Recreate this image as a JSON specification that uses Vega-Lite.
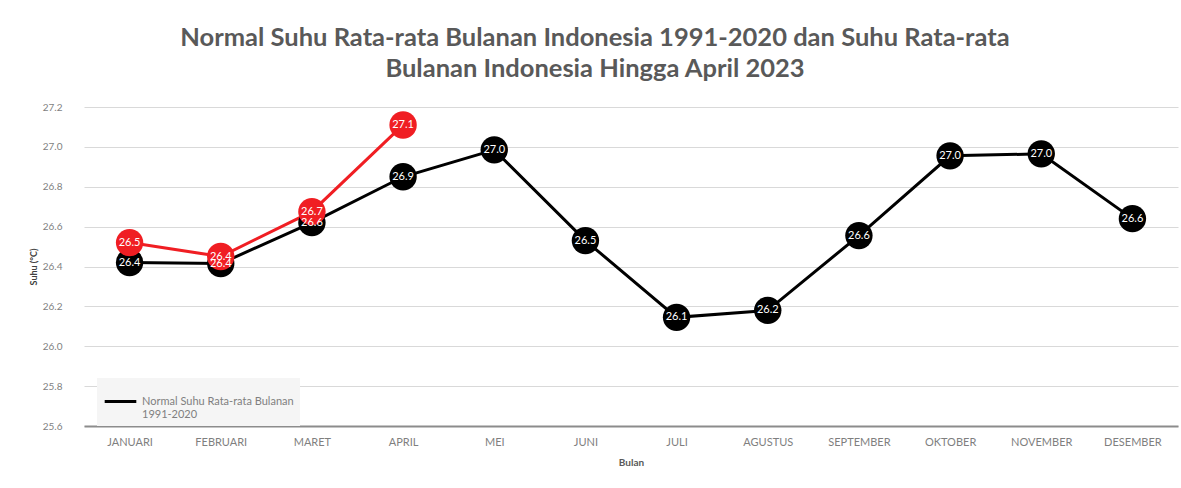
{
  "$schema": "https://vega.github.io/schema/vega-lite/v6.json",
  "width": 1094,
  "height": 319,
  "autosize": {"type": "none"},
  "padding": {"left": 84, "top": 107, "right": 3, "bottom": 62},
  "background": "white",
  "title": {
    "text": ["Normal Suhu Rata-rata Bulanan Indonesia 1991-2020 dan Suhu Rata-rata", "Bulanan Indonesia Hingga April 2023"],
    "font": "Lato",
    "fontSize": 25.5,
    "fontWeight": "bold",
    "color": "#595959",
    "anchor": "middle",
    "dx": -36,
    "offset": 20,
    "lineHeight": 31
  },
  "config": {
    "font": "Lato",
    "view": {"stroke": null},
    "axis": {"labelFont": "Lato", "titleFont": "Lato"}
  },
  "data": {
    "values": [
      {"bulan": "JANUARI", "seri": "Normal Suhu Rata-rata Bulanan 1991-2020", "suhu": 26.42},
      {"bulan": "FEBRUARI", "seri": "Normal Suhu Rata-rata Bulanan 1991-2020", "suhu": 26.415},
      {"bulan": "MARET", "seri": "Normal Suhu Rata-rata Bulanan 1991-2020", "suhu": 26.62},
      {"bulan": "APRIL", "seri": "Normal Suhu Rata-rata Bulanan 1991-2020", "suhu": 26.85},
      {"bulan": "MEI", "seri": "Normal Suhu Rata-rata Bulanan 1991-2020", "suhu": 26.985},
      {"bulan": "JUNI", "seri": "Normal Suhu Rata-rata Bulanan 1991-2020", "suhu": 26.53},
      {"bulan": "JULI", "seri": "Normal Suhu Rata-rata Bulanan 1991-2020", "suhu": 26.145},
      {"bulan": "AGUSTUS", "seri": "Normal Suhu Rata-rata Bulanan 1991-2020", "suhu": 26.18},
      {"bulan": "SEPTEMBER", "seri": "Normal Suhu Rata-rata Bulanan 1991-2020", "suhu": 26.555},
      {"bulan": "OKTOBER", "seri": "Normal Suhu Rata-rata Bulanan 1991-2020", "suhu": 26.955},
      {"bulan": "NOVEMBER", "seri": "Normal Suhu Rata-rata Bulanan 1991-2020", "suhu": 26.965},
      {"bulan": "DESEMBER", "seri": "Normal Suhu Rata-rata Bulanan 1991-2020", "suhu": 26.64},
      {"bulan": "JANUARI", "seri": "Suhu Rata-rata Bulanan 2023", "suhu": 26.52},
      {"bulan": "FEBRUARI", "seri": "Suhu Rata-rata Bulanan 2023", "suhu": 26.45},
      {"bulan": "MARET", "seri": "Suhu Rata-rata Bulanan 2023", "suhu": 26.675},
      {"bulan": "APRIL", "seri": "Suhu Rata-rata Bulanan 2023", "suhu": 27.11}
    ]
  },
  "encoding": {
    "x": {
      "field": "bulan",
      "type": "nominal",
      "sort": null,
      "scale": {"type": "point", "padding": 0.5},
      "axis": {
        "title": "Bulan",
        "labelAngle": 0,
        "labelColor": "#7f7f7f",
        "labelFontSize": 11,
        "labelPadding": 10,
        "ticks": false,
        "domainColor": "#8c8c8c",
        "domainWidth": 2,
        "titleFontSize": 10,
        "titleFontWeight": "bold",
        "titleColor": "#595959",
        "titlePadding": 10
      }
    },
    "y": {
      "field": "suhu",
      "type": "quantitative",
      "scale": {"domain": [25.6, 27.2], "nice": false, "zero": false},
      "axis": {
        "title": "Suhu (°C)",
        "values": [25.6, 25.8, 26.0, 26.2, 26.4, 26.6, 26.8, 27.0, 27.2],
        "format": ".1f",
        "domain": false,
        "ticks": false,
        "grid": true,
        "gridColor": "#d9d9d9",
        "gridWidth": 1,
        "labelColor": "#7f7f7f",
        "labelFontSize": 10,
        "labelPadding": 22,
        "titleFontSize": 9,
        "titleFontWeight": "bold",
        "titleColor": "#404040",
        "titlePadding": 4
      }
    },
    "color": {
      "field": "seri",
      "type": "nominal",
      "scale": {"domain": ["Normal Suhu Rata-rata Bulanan 1991-2020", "Suhu Rata-rata Bulanan 2023"], "range": ["#000000", "#f01e23"]},
      "legend": null
    }
  },
  "layer": [
    {
      "mark": {"type": "line", "strokeWidth": 3},
      "encoding": {
        "color": {
          "field": "seri",
          "type": "nominal",
          "scale": {"domain": ["Normal Suhu Rata-rata Bulanan 1991-2020", "Suhu Rata-rata Bulanan 2023"], "range": ["#000000", "#f01e23"]},
          "legend": {
            "title": null,
            "values": ["Normal Suhu Rata-rata Bulanan 1991-2020"],
            "orient": "none",
            "legendX": 13,
            "legendY": 271,
            "fillColor": "#f5f5f5",
            "padding": 6,
            "symbolType": "stroke",
            "symbolStrokeWidth": 3,
            "symbolSize": 1000,
            "labelFontSize": 11,
            "labelColor": "#7f7f7f",
            "labelLimit": 400,
            "labelOffset": 4,
            "labelExpr": "datum.label == 'Normal Suhu Rata-rata Bulanan 1991-2020' ? ['Normal Suhu Rata-rata Bulanan', '1991-2020'] : datum.label"
          }
        }
      }
    },
    {
      "mark": {"type": "point", "filled": true, "opacity": 1, "size": 750, "shape": "circle"}
    },
    {
      "mark": {"type": "text", "color": "white", "fontSize": 11, "baseline": "middle", "align": "center"},
      "encoding": {
        "text": {"field": "suhu", "type": "quantitative", "format": ".1f"},
        "color": {"value": "white"}
      }
    }
  ]
}
